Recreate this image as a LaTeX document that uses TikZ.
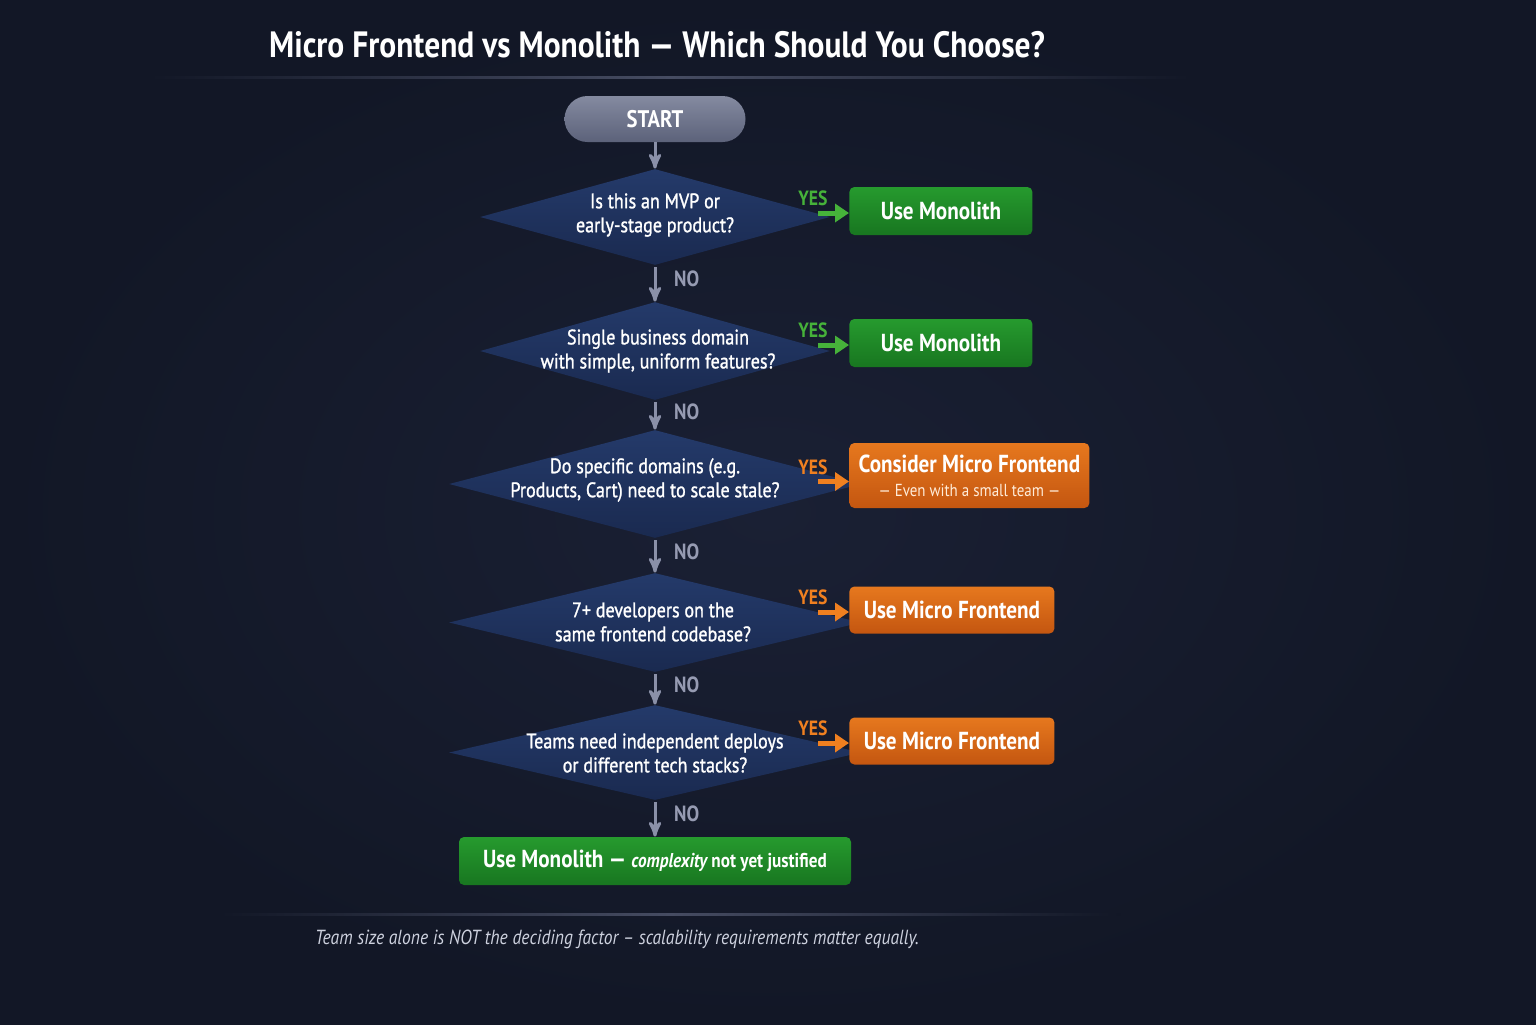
\documentclass[tikz,border=0pt]{standalone}
\usepackage{fontspec}
\setmainfont{PT Sans}[FakeStretch=0.86]
\newfontfamily\qfont{PT Sans}[FakeStretch=0.86, FakeBold=1.2]
\usepackage{tikz}
\usetikzlibrary{arrows,arrows.meta,shapes.geometric}
\definecolor{bgIn}{RGB}{26,32,52}
\definecolor{bgOut}{RGB}{18,23,38}
\definecolor{ruleGray}{RGB}{70,76,98}
\definecolor{startTop}{RGB}{132,138,160}
\definecolor{startBot}{RGB}{92,98,122}
\definecolor{decTop}{RGB}{36,58,106}
\definecolor{decBot}{RGB}{26,42,80}
\definecolor{monoTop}{RGB}{38,154,46}
\definecolor{monoBot}{RGB}{24,118,32}
\definecolor{mfeTop}{RGB}{230,120,30}
\definecolor{mfeBot}{RGB}{196,86,16}
\definecolor{arrGray}{RGB}{138,144,168}
\definecolor{noGray}{RGB}{150,155,178}
\definecolor{yesGreen}{RGB}{70,178,58}
\definecolor{yesOrange}{RGB}{240,128,32}
\definecolor{noteGray}{RGB}{205,209,222}
\tikzset{
  title_t/.style = {text=white, font=\bfseries\fontsize{18.3}{22}\selectfont},
  note_t/.style = {text=noteGray, font=\itshape\fontsize{10.2}{12}\selectfont},
  fc_start/.style = {rectangle, rounded corners=11.5pt, top color=startTop,
    bottom color=startBot, minimum width=90.5pt, minimum height=23pt,
    text=white, font=\bfseries\fontsize{12}{14}\selectfont},
  fc_dec/.style = {diamond, inner sep=0pt, top color=decTop,
    bottom color=decBot},% decision
  fc_q/.style = {align=center, text=white,
    font=\qfont\fontsize{10.5}{12}\selectfont},% question text
  fc_box/.style = {rectangle, rounded corners=2.5pt, anchor=west, inner xsep=4pt,
    minimum height=24pt, text=white, align=center,
    font=\bfseries\fontsize{12.3}{14}\selectfont},
  fc_mono/.style = {fc_box, top color=monoTop, bottom color=monoBot},% monolith
  fc_mfe/.style = {fc_box, top color=mfeTop, bottom color=mfeBot},% micro frontend
  no_arr/.style = {->, >=stealth', draw=arrGray, line width=1.5pt},
  no_lbl/.style = {pos=0.38, right=5.5pt, text=noGray,
    font=\bfseries\fontsize{11}{13}\selectfont},
  yes_arr/.style = {-{Triangle[length=7pt,width=9pt]}, line width=2.5pt},
  yes_lbl/.style = {pos=0, above=-1.2pt, xshift=-2.5pt,
    font=\bfseries\fontsize{10.3}{12}\selectfont}
}
\begin{document}
\begin{tikzpicture}[x=0.5pt,y=-0.5pt]
  \useasboundingbox (0,0) rectangle (1536,1024);
  \shade[inner color=bgIn, outer color=bgOut] (0,0) rectangle (1536,1024);
  % title and rules
  \node[title_t] (title) at (657,45) {Micro Frontend vs Monolith — Which Should You Choose?};
  \shade[left color=bgOut, right color=bgOut, middle color=ruleGray] (150,76) rectangle (1190,78.5);
  \shade[left color=bgOut, right color=bgOut, middle color=ruleGray] (220,913) rectangle (1120,915.5);

  \node[fc_start] (start) at (655,119) {START};

  % decisions
  \node[fc_dec, minimum width=175pt, minimum height=48pt] (d1) at (655,217) {};
  \node[fc_dec, minimum width=175pt, minimum height=49pt] (d2) at (655,351) {};
  \node[fc_dec, minimum width=206pt, minimum height=54pt] (d3) at (655,484) {};
  \node[fc_dec, minimum width=206pt, minimum height=49.5pt] (d4) at (655,622.5) {};
  \node[fc_dec, minimum width=206pt, minimum height=47.5pt] (d5) at (655,752.5) {};
  \node[fc_q] (q1) at (655,215) {Is this an MVP or\\early-stage product?};
  \node[fc_q] (q2) at (658,351) {Single business domain\\with simple, uniform features?};
  \node[fc_q] (q3) at (645,480) {Do specific domains (e.g.\\Products, Cart) need to scale stale?};
  \node[fc_q] (q4) at (653,622) {7+ developers on the\\same frontend codebase?};
  \node[fc_q] (q5) at (655,753) {Teams need independent deploys\\or different tech stacks?};

  % outcomes
  \node[fc_mono, minimum width=91.5pt] (m1) at (849,211) {Use Monolith};
  \node[fc_mono, minimum width=91.5pt] (m2) at (849,343) {Use Monolith};
  \node[fc_mfe, minimum width=120pt, minimum height=32.5pt] (m3) at (849,475.5)
    {\raisebox{-1pt}{Consider Micro Frontend}\\[-1pt]{\mdseries\fontsize{8.7}{10}\selectfont\color{orange!15}— Even with a small team —}};
  \node[fc_mfe, minimum width=102.5pt, minimum height=23.5pt] (m4) at (849,610) {Use Micro Frontend};
  \node[fc_mfe, minimum width=102.5pt, minimum height=23.5pt] (m5) at (849,741) {Use Micro Frontend};
  \node[fc_mono, anchor=center, minimum width=196pt] (fin) at (655,861)
    {Use Monolith — {\fontsize{10}{12}\selectfont\itshape complexity\upshape{} not yet justified}};

  % NO path
  \draw[no_arr] (start) -- (d1);
  \foreach \from/\to in {d1/d2,d2/d3,d3/d4,d4/d5,d5/fin}
    \draw[no_arr, shorten <=1pt] (\from.south) -- (\to.north) node[no_lbl] {NO};

  % YES branches
  \foreach \outc/\col in {m1/yesGreen,m2/yesGreen,m4/yesOrange,m5/yesOrange}
    \draw[yes_arr, draw=\col, fill=\col] ([xshift=-15.5pt,yshift=-1pt]\outc.west) -- ([yshift=-1pt]\outc.west)
      node[yes_lbl, text=\col] {YES};
  \draw[yes_arr, draw=yesOrange, fill=yesOrange] ([xshift=-15.5pt,yshift=-3pt]m3.west) -- ([yshift=-3pt]m3.west)
      node[yes_lbl, text=yesOrange] {YES};

  \node[note_t] (note) at (617,939) {Team size alone is NOT the deciding factor – scalability requirements matter equally.};
\end{tikzpicture}
\end{document}
